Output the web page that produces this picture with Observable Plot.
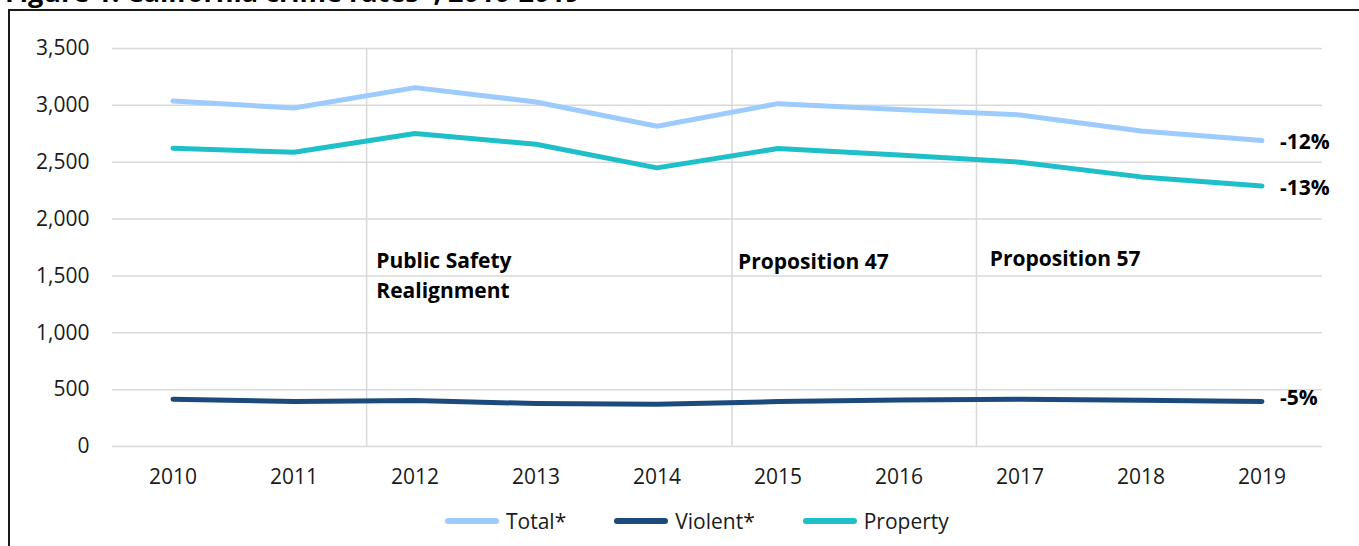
<!DOCTYPE html>
<html>
<head>
<meta charset="utf-8">
<script src="https://cdn.jsdelivr.net/npm/d3@7"></script>
<script src="https://cdn.jsdelivr.net/npm/@observablehq/plot@0.6"></script>
<style>
  html, body { margin: 0; padding: 0; background: #fff; overflow: hidden; }
  body { width: 1359px; height: 546px; position: relative; font-family: "Open Sans", sans-serif; }
  #title { position: absolute; left: 5px; top: -23px; font-size: 27px; font-weight: bold; color: #000; white-space: nowrap; line-height: 30px; }
  #box { position: absolute; left: 8px; top: 9px; width: 1400px; height: 600px; border-left: 2px solid #1a1a1a; border-top: 2px solid #1a1a1a; box-sizing: border-box; }
  #chart { position: absolute; left: 0; top: 0; }
  #legend { position: absolute; left: 445px; top: 506px; height: 30px; display: flex; align-items: center; font-size: 21px; color: #1a1a1a; }
  .item { display: flex; align-items: center; margin-right: 48px; }
  .sw { width: 54px; height: 6px; border-radius: 3px; margin-right: 7px; }
</style>
</head>
<body>
<div id="title">Figure 1. California crime rates*, 2010-2019</div>
<div id="box"></div>
<div id="chart"></div>
<div id="legend"></div>
<script>
const years = [2010, 2011, 2012, 2013, 2014, 2015, 2016, 2017, 2018, 2019];
const totalRates = [3038, 2977, 3156, 3030, 2816, 3015, 2963, 2916, 2775, 2690];
const violentRates = [416, 395, 404, 378, 372, 395, 410, 416, 407, 396];
const propertyRates = [2623, 2587, 2752, 2658, 2450, 2620, 2564, 2500, 2371, 2291];
const seriesNames = ["Total*", "Violent*", "Property"];
const seriesColors = ["#9dcbfd", "#1b4a7d", "#1fbfca"];
const changeLabels = ["-12%", "-5%", "-13%"];
const changeLabelY = [2675, 425, 2271];
const yTicks = [0, 500, 1000, 1500, 2000, 2500, 3000, 3500];
const eventYears = [2011.6, 2014.62, 2016.64];
const eventLabelX = [2011.68, 2014.67, 2016.75];
const eventLabelY = [1523, 1646, 1673];
const eventLabels = ["Public Safety\nRealignment", "Proposition 47", "Proposition 57"];

const seriesValues = [totalRates, violentRates, propertyRates];
const table = seriesNames.flatMap((s, i) => years.map((yr, j) => ({series: s, year: yr, value: seriesValues[i][j]})));
const endTable = seriesNames.map((s, i) => ({series: s, year: years[years.length - 1], value: changeLabelY[i], label: changeLabels[i]}));
const eventTable = eventLabels.map((t, i) => ({x: eventLabelX[i], y: eventLabelY[i], text: t}));

const chart = Plot.plot({
  width: 1359,
  height: 500,
  marginTop: 48,
  marginBottom: 54,
  marginLeft: 112,
  marginRight: 37,
  style: {fontFamily: "Open Sans", fontSize: "21px", color: "#1a1a1a", overflow: "visible", background: "transparent"},
  x: {type: "linear", domain: [2009.5, 2019.5]},
  y: {domain: [0, 3500]},
  color: {domain: seriesNames, range: seriesColors},
  marks: [
    Plot.gridY(yTicks, {stroke: "#d9d9d9", strokeOpacity: 1, strokeWidth: 1.5}),
    Plot.axisY(yTicks, {tickSize: 0, tickPadding: 23, tickFormat: d3.format(","), label: null, fill: "#1a1a1a"}),
    Plot.axisX(years, {tickSize: 0, tickPadding: 23, tickFormat: d => String(d), label: null, fill: "#1a1a1a"}),
    Plot.ruleX(eventYears, {y1: 0, y2: 3500, stroke: "#d9d9d9", strokeWidth: 1.5}),
    Plot.line(table, {x: "year", y: "value", z: "series", stroke: "series", strokeWidth: 5, strokeLinecap: "round", strokeLinejoin: "round"}),
    Plot.text(eventTable, {x: "x", y: "y", text: "text", textAnchor: "start", lineAnchor: "middle", lineHeight: 1.43, fontWeight: "bold", fontSize: 21, fill: "#000"}),
    Plot.text(endTable, {x: "year", y: "value", text: "label", textAnchor: "start", dx: 18, fontWeight: "bold", fontSize: 21, fill: "#000"})
  ]
});
document.getElementById("chart").appendChild(chart);

const legend = document.getElementById("legend");
seriesNames.forEach((s, i) => {
  const it = document.createElement("div");
  it.className = "item";
  const sw = document.createElement("div");
  sw.className = "sw";
  sw.style.background = seriesColors[i];
  const tx = document.createElement("span");
  tx.textContent = s;
  it.appendChild(sw);
  it.appendChild(tx);
  legend.appendChild(it);
});
</script>
</body>
</html>
